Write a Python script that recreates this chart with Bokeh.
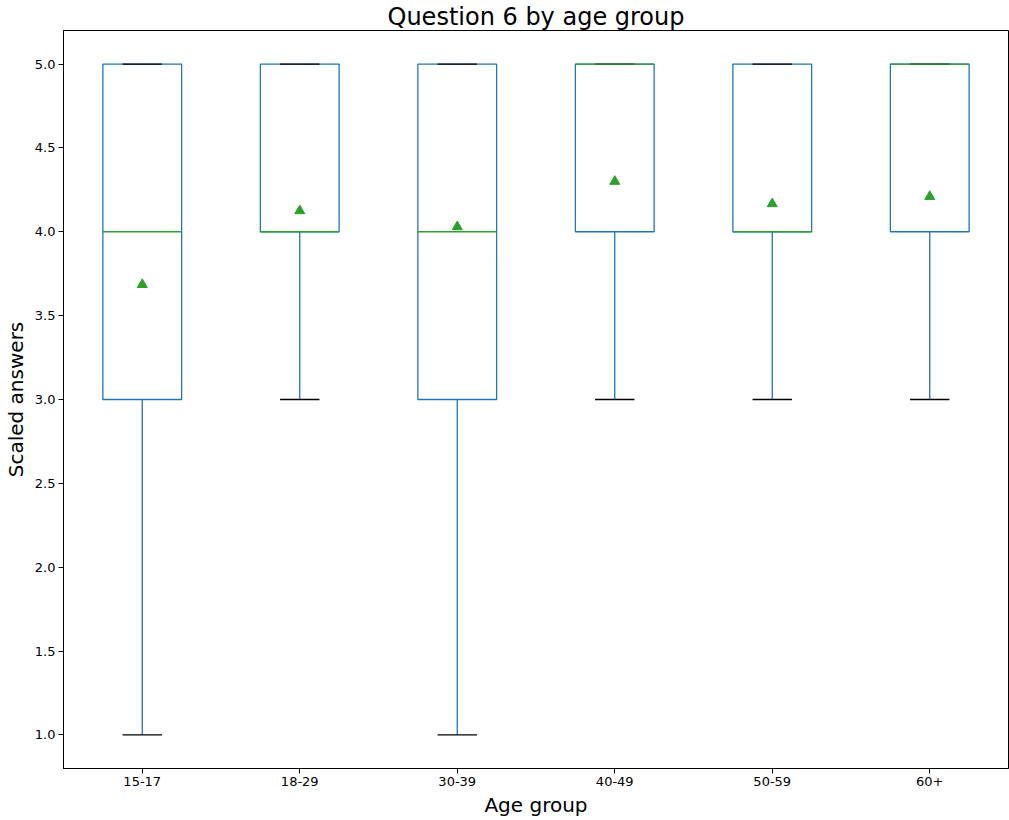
from bokeh.plotting import figure
from bokeh.models import FactorRange, Range1d, FixedTicker, NumeralTickFormatter, ColumnDataSource
from bokeh.transform import dodge
from bokeh.embed import file_html
from bokeh.resources import INLINE

groups = ["15-17", "18-29", "30-39", "40-49", "50-59", "60+"]
whisker_low = [1.0, 3.0, 1.0, 3.0, 3.0, 3.0]
q1 = [3.0, 4.0, 3.0, 4.0, 4.0, 4.0]
median = [4.0, 4.0, 4.0, 5.0, 4.0, 5.0]
q3 = [5.0, 5.0, 5.0, 5.0, 5.0, 5.0]
whisker_high = [5.0, 5.0, 5.0, 5.0, 5.0, 5.0]
mean = [3.685, 4.125, 4.03, 4.30, 4.167, 4.21]
y_ticks = [1.0, 1.5, 2.0, 2.5, 3.0, 3.5, 4.0, 4.5, 5.0]

BLUE = "#1f77b4"
GREEN = "#2ca02c"
FONT = "DejaVu Sans"
LW = 1.3

src = ColumnDataSource(dict(g=groups, lo=whisker_low, q1=q1, med=median, q3=q3, hi=whisker_high, mean=mean))

p = figure(x_range=FactorRange(*groups, range_padding=0), y_range=Range1d(0.8, 5.2),
           frame_width=945, frame_height=738, output_backend="svg", toolbar_location=None,
           title="Question 6 by age group", min_border_left=0, min_border_right=2,
           min_border_top=0, min_border_bottom=0)

p.title.align = "center"
p.title.text_font = FONT
p.title.text_font_size = "24px"
p.title.text_font_style = "normal"
p.title.text_color = "black"
p.title.standoff = 0
p.title.offset = 0

p.xgrid.visible = False
p.ygrid.visible = False
p.outline_line_color = "black"
p.outline_line_width = 1
p.outline_line_alpha = 1

for ax in (p.xaxis[0], p.yaxis[0]):
    ax.axis_line_color = "black"
    ax.major_tick_line_color = "black"
    ax.major_tick_out = 5
    ax.major_tick_in = 0
    ax.minor_tick_line_color = None
    ax.major_label_text_font = FONT
    ax.major_label_text_font_size = "13px"
    ax.major_label_text_color = "black"
    ax.axis_label_text_font = FONT
    ax.axis_label_text_font_size = "20px"
    ax.axis_label_text_font_style = "normal"
    ax.axis_label_text_color = "black"
    ax.axis_label_standoff = 4
    ax.major_label_standoff = 3

p.xaxis.axis_label = "Age group"
p.yaxis.axis_label = "Scaled answers"
p.yaxis.ticker = FixedTicker(ticks=y_ticks)
p.yaxis.formatter = NumeralTickFormatter(format="0.0")

# boxes
p.vbar(x="g", bottom="q1", top="q3", width=0.5, source=src, fill_color=None,
       line_color=BLUE, line_width=LW)
# whiskers
p.segment(x0="g", y0="lo", x1="g", y1="q1", source=src, line_color=BLUE, line_width=LW)
p.segment(x0="g", y0="q3", x1="g", y1="hi", source=src, line_color=BLUE, line_width=LW)
# caps
p.segment(x0=dodge("g", -0.125, range=p.x_range), y0="lo", x1=dodge("g", 0.125, range=p.x_range), y1="lo",
          source=src, line_color="black", line_width=LW)
p.segment(x0=dodge("g", -0.125, range=p.x_range), y0="hi", x1=dodge("g", 0.125, range=p.x_range), y1="hi",
          source=src, line_color="black", line_width=LW)
# medians
p.segment(x0=dodge("g", -0.25, range=p.x_range), y0="med", x1=dodge("g", 0.25, range=p.x_range), y1="med",
          source=src, line_color=GREEN, line_width=LW)
# means
p.scatter(x="g", y="mean", source=src, marker="triangle", size=10, fill_color=GREEN, line_color=GREEN)

open("out.html", "w").write(file_html(p, INLINE))
